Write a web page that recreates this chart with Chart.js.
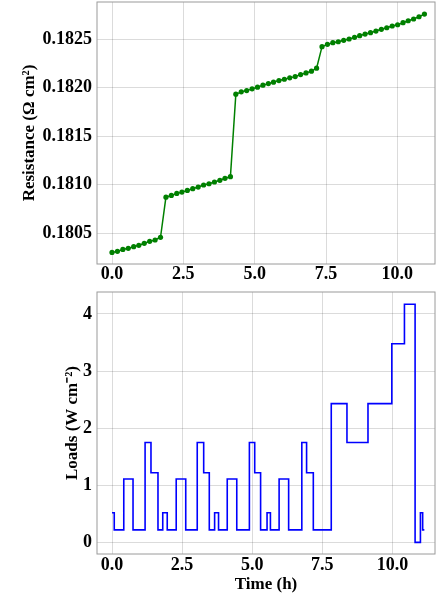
<!DOCTYPE html>
<html>
<head>
<meta charset="utf-8">
<script src="https://cdn.jsdelivr.net/npm/chart.js@4"></script>
<style>
  html, body { margin: 0; padding: 0; background: #fff; }
  .box { position: absolute; left: 0; width: 436px; }
  #topBox { top: 0; height: 290px; }
  #bottomBox { top: 280px; height: 317px; }
</style>
</head>
<body>
<div class="box" id="topBox"><canvas id="resistanceChart"></canvas></div>
<div class="box" id="bottomBox"><canvas id="loadChart"></canvas></div>
<script>
// resistance measured during the run (hours, ohm cm^2)
const resistanceTimes = [
    0.00, 0.19, 0.38, 0.57, 0.76, 0.94, 1.13, 1.32, 1.51, 1.70,
    1.89, 2.08, 2.27, 2.45, 2.64, 2.83, 3.02, 3.21, 3.40, 3.59, 3.78, 3.96, 4.15,
    4.34, 4.53, 4.72, 4.91, 5.10, 5.29, 5.48, 5.66, 5.85, 6.04, 6.23, 6.42, 6.61, 6.80, 6.99, 7.17,
    7.36, 7.55, 7.74, 7.93, 8.12, 8.31, 8.50, 8.68, 8.87, 9.06, 9.25, 9.44, 9.63, 9.82, 10.01, 10.20, 10.38, 10.57, 10.76, 10.95
];
const resistanceValues = [
    0.180303, 0.180314, 0.180334, 0.180345, 0.180362, 0.180376, 0.180397, 0.180417, 0.180431, 0.180459,
    0.180872, 0.180890, 0.180910, 0.180924, 0.180941, 0.180959, 0.180976, 0.180997, 0.181010, 0.181028, 0.181045, 0.181066, 0.181083,
    0.181932, 0.181956, 0.181969, 0.181987, 0.182004, 0.182025, 0.182041, 0.182056, 0.182072, 0.182086, 0.182100, 0.182113, 0.182134, 0.182151, 0.182169, 0.182200,
    0.182421, 0.182445, 0.182462, 0.182472, 0.182487, 0.182500, 0.182517, 0.182534, 0.182551, 0.182565, 0.182582, 0.182600, 0.182616, 0.182634, 0.182647, 0.182668, 0.182688, 0.182706, 0.182729, 0.182757
];

// load profile, each value holds from its start time until the next one
const loadTimes = [
    0.00, 0.08, 0.42, 0.75, 1.18, 1.39, 1.64, 1.81, 1.97, 2.29, 2.63, 3.04, 3.27,
    3.47, 3.66, 3.80, 4.11, 4.45, 4.90, 5.09, 5.30, 5.53, 5.65, 5.96, 6.30, 6.77,
    6.94, 7.18, 7.82, 8.38, 9.13, 9.98, 10.43, 10.81, 11.00, 11.08, 11.14
];
const loadValues = [
    0.52, 0.22, 1.11, 0.22, 1.75, 1.22, 0.22, 0.52, 0.22, 1.11, 0.22, 1.75, 1.22,
    0.22, 0.52, 0.22, 1.11, 0.22, 1.75, 1.22, 0.22, 0.52, 0.22, 1.11, 0.22, 1.75,
    1.22, 0.22, 2.43, 1.75, 2.43, 3.48, 4.17, 0.00, 0.52, 0.22, 0.22
];

const timeTicks = [0, 2.5, 5, 7.5, 10];
const resistanceTicks = [0.1805, 0.1810, 0.1815, 0.1820, 0.1825];
const loadTicks = [0, 1, 2, 3, 4];

Chart.defaults.font.family = "'Liberation Serif', 'Times New Roman', serif";
Chart.defaults.font.weight = 'bold';
Chart.defaults.color = '#000';

const frame = {
    id: 'frame',
    afterDraw(chart) {
        const {ctx, chartArea} = chart;
        ctx.save();
        ctx.strokeStyle = '#9a9a9a';
        ctx.lineWidth = 1;
        ctx.strokeRect(chartArea.left, chartArea.top, chartArea.right - chartArea.left, chartArea.bottom - chartArea.top);
        ctx.restore();
    }
};

function fixedTicks(values) {
    return scale => { scale.ticks = values.map(v => ({value: v})); };
}

// pin the axis box size and drop the label overhang padding
function fixedSize(prop, size) {
    return scale => {
        scale[prop] = size;
        scale.paddingTop = 0;
        scale.paddingBottom = 0;
        scale.paddingLeft = 0;
        scale.paddingRight = 0;
    };
}

const gridStyle = { color: 'rgba(0,0,0,0.14)', lineWidth: 1, drawTicks: false };
const tickFont = { size: 18, weight: 'bold', lineHeight: 1.2 };
const titleFont = { size: 17, weight: 'bold', lineHeight: 1.2 };

new Chart(document.getElementById('resistanceChart'), {
    type: 'line',
    data: {
        datasets: [{
            data: resistanceTimes.map((t, i) => ({x: t, y: resistanceValues[i]})),
            borderColor: '#008000',
            backgroundColor: '#008000',
            borderWidth: 1.5,
            pointRadius: 2.6,
            pointBorderWidth: 0,
            pointBackgroundColor: '#008000'
        }]
    },
    options: {
        responsive: true,
        maintainAspectRatio: false,
        animation: false,
        layout: { autoPadding: false, padding: { top: 2, right: 1, left: 0, bottom: 0 } },
        plugins: { legend: { display: false }, tooltip: { enabled: false } },
        scales: {
            x: {
                type: 'linear',
                min: -0.526,
                max: 11.32,
                afterBuildTicks: fixedTicks(timeTicks),
                afterFit: fixedSize('height', 26),
                grid: gridStyle,
                border: { display: false },
                ticks: { font: tickFont, padding: 0, maxRotation: 0, callback: v => v.toFixed(1) }
            },
            y: {
                min: 0.180184,
                max: 0.182881,
                afterBuildTicks: fixedTicks(resistanceTicks),
                afterFit: fixedSize('width', 97),
                grid: gridStyle,
                border: { display: false },
                ticks: { font: tickFont, padding: 5, callback: v => v.toFixed(4) },
                title: { display: true, text: 'Resistance (\u03A9 cm\u00B2)', font: titleFont, padding: { top: 19, bottom: 0 } }
            }
        }
    },
    plugins: [frame]
});

new Chart(document.getElementById('loadChart'), {
    type: 'line',
    data: {
        datasets: [{
            data: loadTimes.map((t, i) => ({x: t, y: loadValues[i]})),
            stepped: 'before',
            borderColor: '#0000ff',
            borderWidth: 1.6,
            pointRadius: 0,
            fill: false
        }]
    },
    options: {
        responsive: true,
        maintainAspectRatio: false,
        animation: false,
        layout: { autoPadding: false, padding: { top: 12, right: 1, left: 0, bottom: 0 } },
        plugins: { legend: { display: false }, tooltip: { enabled: false } },
        scales: {
            x: {
                type: 'linear',
                min: -0.535,
                max: 11.52,
                afterBuildTicks: fixedTicks(timeTicks),
                afterFit: fixedSize('height', 43),
                grid: gridStyle,
                border: { display: false },
                ticks: { font: tickFont, padding: 1, maxRotation: 0, callback: v => v.toFixed(1) },
                title: { display: true, text: 'Time (h)', font: titleFont, padding: { top: 0, bottom: 2 } }
            },
            y: {
                min: -0.203,
                max: 4.385,
                afterBuildTicks: fixedTicks(loadTicks),
                afterFit: fixedSize('width', 97),
                grid: gridStyle,
                border: { display: false },
                ticks: { font: tickFont, padding: 5, callback: v => String(v) },
                title: { display: true, text: 'Loads (W cm\u207B\u00B2)', font: titleFont, padding: { top: 62, bottom: 0 } }
            }
        }
    },
    plugins: [frame]
});
</script>
</body>
</html>
